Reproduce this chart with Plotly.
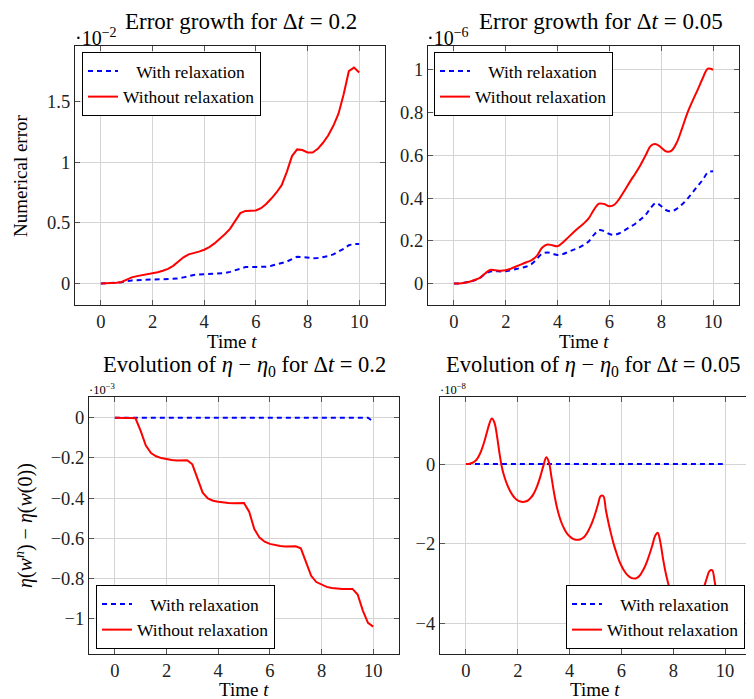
import plotly.graph_objects as go

# page has an 8px body margin; shrink the figure so it fits the 754x699 window
OFF = 8
W, H = 754 - OFF, 699 - OFF

# ---------------- data ----------------
t_02 = [round(0.2 * i, 1) for i in range(51)]

# Error growth, dt = 0.2 (units of 1e-2)
err02_relax = [0, 0.0, 0.002, 0.005, 0.010, 0.018, 0.025, 0.027, 0.028, 0.029,
               0.030, 0.031, 0.032, 0.034, 0.035, 0.040, 0.050, 0.060, 0.070, 0.073,
               0.075, 0.076, 0.078, 0.080, 0.085, 0.095, 0.110, 0.125, 0.135, 0.135,
               0.135, 0.136, 0.138, 0.145, 0.155, 0.165, 0.180, 0.200, 0.220, 0.218,
               0.210, 0.208, 0.210, 0.215, 0.225, 0.240, 0.260, 0.285, 0.315, 0.325,
               0.325]
err02_norelax = [0, 0.0, 0.002, 0.005, 0.012, 0.030, 0.050, 0.060, 0.067, 0.075,
                 0.083, 0.092, 0.105, 0.120, 0.145, 0.180, 0.215, 0.240, 0.250, 0.262,
                 0.278, 0.300, 0.330, 0.365, 0.405, 0.450, 0.520, 0.580, 0.598, 0.600,
                 0.602, 0.620, 0.655, 0.700, 0.750, 0.810, 0.920, 1.050, 1.105, 1.100,
                 1.080, 1.080, 1.110, 1.160, 1.220, 1.300, 1.400, 1.560, 1.750, 1.780,
                 1.740]

# Error growth, dt = 0.05 (units of 1e-6)
err005_relax = [0, 0.001, 0.004, 0.009, 0.016, 0.026, 0.045, 0.056, 0.058, 0.057,
                0.058, 0.063, 0.068, 0.074, 0.080, 0.092, 0.115, 0.140, 0.146, 0.140,
                0.134, 0.138, 0.148, 0.158, 0.167, 0.180, 0.197, 0.228, 0.250, 0.245,
                0.232, 0.228, 0.236, 0.250, 0.265, 0.280, 0.300, 0.322, 0.355, 0.377,
                0.362, 0.343, 0.338, 0.350, 0.370, 0.395, 0.425, 0.455, 0.485, 0.520,
                0.525]
err005_norelax = [0, 0.001, 0.004, 0.009, 0.017, 0.027, 0.047, 0.064, 0.062, 0.060,
                  0.062, 0.070, 0.080, 0.090, 0.100, 0.110, 0.130, 0.168, 0.183, 0.179,
                  0.175, 0.192, 0.215, 0.238, 0.260, 0.280, 0.305, 0.345, 0.374, 0.372,
                  0.362, 0.370, 0.400, 0.438, 0.478, 0.515, 0.555, 0.600, 0.645, 0.652,
                  0.636, 0.618, 0.622, 0.660, 0.725, 0.795, 0.852, 0.905, 0.960, 1.005,
                  1.000]

# eta - eta0, dt = 0.2 (units of 1e-3)
eta02_relax = [0] * 50 + [-0.02]
eta02_norelax = [0, -0.002, -0.002, -0.001, -0.003, -0.066, -0.139, -0.176, -0.192, -0.201,
                 -0.207, -0.211, -0.213, -0.213, -0.212, -0.232, -0.300, -0.373, -0.402, -0.413,
                 -0.418, -0.422, -0.425, -0.426, -0.425, -0.425, -0.468, -0.554, -0.597, -0.617,
                 -0.628, -0.635, -0.639, -0.641, -0.641, -0.640, -0.650, -0.720, -0.787, -0.818,
                 -0.832, -0.842, -0.847, -0.851, -0.853, -0.853, -0.852, -0.880, -0.960, -1.021,
                 -1.040]

# eta - eta0, dt = 0.05 (units of 1e-8)
t_01 = [round(0.1 * i, 1) for i in range(101)]
eta005_relax = [0] * 101
eta005_norelax = [0.00, 0.00, 0.02, 0.05, 0.10, 0.20, 0.35, 0.54, 0.77, 1.00,
                  1.14, 1.04, 0.70, 0.25, -0.12, -0.35, -0.53, -0.67, -0.78, -0.86,
                  -0.91, -0.94, -0.95, -0.94, -0.91, -0.85, -0.76, -0.63, -0.46, -0.25,
                  -0.02, 0.17, 0.05, -0.32, -0.72, -1.05, -1.30, -1.49, -1.63, -1.74,
                  -1.81, -1.86, -1.89, -1.90, -1.89, -1.86, -1.80, -1.70, -1.57, -1.41,
                  -1.22, -1.00, -0.80, -0.80, -1.15, -1.47, -1.75, -2.00, -2.21, -2.40,
                  -2.55, -2.67, -2.76, -2.82, -2.86, -2.87, -2.85, -2.80, -2.70, -2.58,
                  -2.42, -2.23, -2.02, -1.80, -1.72, -1.95, -2.35, -2.70, -2.98, -3.22,
                  -3.42, -3.58, -3.70, -3.78, -3.83, -3.85, -3.84, -3.80, -3.72, -3.60,
                  -3.45, -3.27, -3.06, -2.85, -2.68, -2.66, -2.95, -3.35, -3.70, -3.98,
                  -4.20]

xticks = [0, 2, 4, 6, 8, 10]
yticks_err02 = [0, 0.5, 1, 1.5]
yticks_err005 = [0, 0.2, 0.4, 0.6, 0.8, 1]
yticks_eta02 = [0, -0.2, -0.4, -0.6, -0.8, -1]
yticks_eta005 = [0, -2, -4]

label_relax = "\u00a0\u00a0\u00a0With relaxation"
label_norelax = "Without relaxation"

# ---------------- style helpers ----------------
FONT = "Liberation Serif"
BLUE = "#0000ff"
RED = "#ff0000"


def px(x):
    return (x - OFF) / W


def py(y):
    return 1 - (y - OFF) / H


fig = go.Figure()

panels = [
    (t_02, err02_relax, err02_norelax, False, "legend", ""),
    (t_02, err005_relax, err005_norelax, True, "legend2", "2"),
    (t_02, eta02_relax, eta02_norelax, False, "legend3", "3"),
    (t_01, eta005_relax, eta005_norelax, True, "legend4", "4"),
]

for t, rel, norel, spl, leg, ax in panels:
    shape = "spline" if spl else "linear"
    fig.add_trace(go.Scatter(
        x=t, y=rel, mode="lines", name=label_relax, legend=leg,
        xaxis="x" + ax, yaxis="y" + ax,
        line=dict(color=BLUE, width=2, dash="5px,4px", shape=shape)))
    fig.add_trace(go.Scatter(
        x=t, y=norel, mode="lines", name=label_norelax, legend=leg,
        xaxis="x" + ax, yaxis="y" + ax,
        line=dict(color=RED, width=2, shape=shape)))

axis_common = dict(
    showgrid=True, gridcolor="#d4d4d4", gridwidth=1,
    showline=True, linecolor="#222222", linewidth=1.2, mirror="ticks",
    ticks="inside", ticklen=5, tickcolor="#555555", tickwidth=1,
    zeroline=False, automargin=False,
    tickfont=dict(family=FONT, size=18.5, color="#222222"),
)

# domains in reference pixels: (x0, x1, ytop, ybottom)
dom = [
    (75, 385, 46, 305),
    (428, 739, 46, 305),
    (89, 399, 397, 654),
    (440, 751, 397, 654),
]
yranges = [(-0.178, 1.958), (-0.1, 1.111), (-1.176, 0.103), (-4.76, 1.68)]
yticks = [yticks_err02, yticks_err005, yticks_eta02, yticks_eta005]

layout = dict(
    width=W, height=H, autosize=False,
    margin=dict(l=0, r=0, t=0, b=0),
    paper_bgcolor="white", plot_bgcolor="white",
    template="none",
    font=dict(family=FONT, size=18, color="black"),
    showlegend=True,
)

for i, (x0, x1, yt, yb) in enumerate(dom):
    sfx = "" if i == 0 else str(i + 1)
    layout["xaxis" + sfx] = dict(
        axis_common, domain=[px(x0), px(x1)], range=[-1, 11],
        tickvals=xticks, anchor="y" + sfx)
    layout["yaxis" + sfx] = dict(
        axis_common, domain=[py(yb), py(yt)], range=list(yranges[i]),
        tickvals=yticks[i], anchor="x" + sfx)

leg_common = dict(
    bgcolor="white", bordercolor="black", borderwidth=1,
    font=dict(family=FONT, size=17.5, color="black"),
    tracegroupgap=0, itemwidth=30,
)
layout["legend"] = dict(leg_common, x=px(82), y=py(52), xanchor="left", yanchor="top")
layout["legend2"] = dict(leg_common, x=px(434), y=py(52), xanchor="left", yanchor="top")
layout["legend3"] = dict(leg_common, x=px(96), y=py(649), xanchor="left", yanchor="bottom")
layout["legend4"] = dict(leg_common, x=px(745), y=py(649), xanchor="right", yanchor="bottom")

fig.update_layout(**layout)

ann = []


def add_text(text, x, y, size, angle=0, xanchor="center"):
    ann.append(dict(text=text, x=px(x), y=py(y), xref="paper", yref="paper",
                    showarrow=False, xanchor=xanchor, yanchor="middle",
                    textangle=angle, borderpad=0,
                    font=dict(family=FONT, size=size, color="black")))


# titles
add_text("Error growth for Δ<i>t</i> = 0.2", 241, 21, 23)
add_text("Error growth for Δ<i>t</i> = 0.05", 601, 21, 23)
add_text("Evolution of <i>η</i> − <i>η</i><sub>0</sub> for Δ<i>t</i> = 0.2", 244, 366, 22.5)
add_text("Evolution of <i>η</i> − <i>η</i><sub>0</sub> for Δ<i>t</i> = 0.05", 593, 366, 22.5)

# exponent labels
add_text("·10<sup>−2</sup>", 74, 37, 20, xanchor="left")
add_text("·10<sup>−6</sup>", 426, 37, 20, xanchor="left")
add_text("·10<sup>−3</sup>", 88, 389, 12.5, xanchor="left")
add_text("·10<sup>−8</sup>", 439, 389, 12.5, xanchor="left")

# axis titles
add_text("Time <i>t</i>", 232, 341, 19)
add_text("Time <i>t</i>", 584, 341, 19)
add_text("Time <i>t</i>", 244, 689, 19)
add_text("Time <i>t</i>", 595, 689, 19)
add_text("Numerical error", 20, 176, 19, angle=-90)
add_text("<i>η</i>(<i>w</i><sup><i>n</i></sup>) − <i>η</i>(<i>w</i>(0))", 24, 526, 20, angle=-90)

fig.update_layout(annotations=ann)

fig.write_html("out.html")
